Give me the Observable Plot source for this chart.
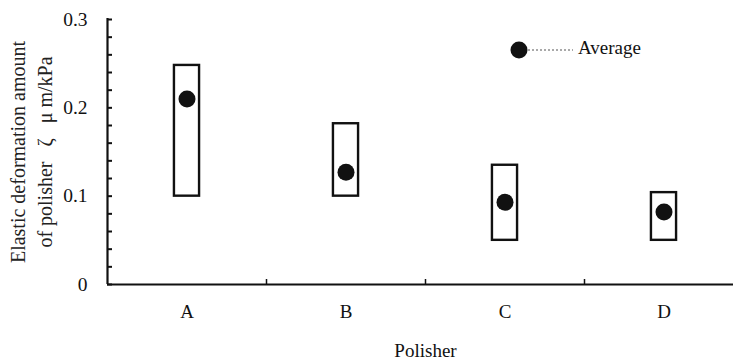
<!DOCTYPE html>
<html>
<head>
<meta charset="utf-8">
<script src="https://cdn.jsdelivr.net/npm/d3@7"></script>
<script src="https://cdn.jsdelivr.net/npm/@observablehq/plot@0.6"></script>
<style>
  html, body { margin: 0; padding: 0; background: #fff; overflow: hidden; }
  #wrap { position: relative; width: 733px; height: 361px; }
  #legend { position: absolute; left: 509px; top: 36px; font-family: "Liberation Serif", serif; font-size: 19px; color: #111; display: flex; align-items: center; }
</style>
</head>
<body>
<div id="wrap">
  <div id="chart"></div>
  <div id="legend">
    <svg width="68" height="24"><circle cx="10" cy="14" r="8.5" fill="#111"></circle><line x1="19" y1="14" x2="64" y2="14" stroke="#555" stroke-width="1.2" stroke-dasharray="2,2"></line></svg>
    <span style="margin-left:1px">Average</span>
  </div>
</div>
<script>
const categories = ["A", "B", "C", "D"];
const maxValues = [0.248, 0.182, 0.135, 0.104];
const minValues = [0.1, 0.1, 0.05, 0.05];
const avgValues = [0.21, 0.127, 0.093, 0.082];
const yTicks = [0, 0.1, 0.2, 0.3];
const yLabel = ["Elastic deformation amount", "of polisher\u00A0\u00A0\u00A0\u03B6\u00A0\u00A0\u00A0\u03BC m/kPa"];
const xLabel = "Polisher";

const rows = categories.map((c, i) => ({i, c, lo: minValues[i], hi: maxValues[i], avg: avgValues[i]}));
const hw = 0.079;

const chart = Plot.plot({
  width: 733,
  height: 361,
  marginLeft: 107,
  marginRight: -10,
  marginTop: 19,
  marginBottom: 77,
  style: {fontFamily: "Liberation Serif, serif", fontSize: "19px", color: "#111", background: "#fff"},
  x: {domain: [-0.5, 3.5]},
  y: {domain: [0, 0.3]},
  marks: [
    Plot.axisY({ticks: yTicks, tickSize: 0, tickPadding: 20, tickFormat: d => d === 0 ? "0" : d3.format(".1f")(d), label: null, fontSize: 19.5}),
    Plot.axisY({ticks: d3.range(0, 0.3001, 0.02), tickSize: -5, text: null, label: null, strokeWidth: 2}),
    Plot.axisX({ticks: [0, 1, 2, 3], tickFormat: i => categories[i], tickSize: 0, tickPadding: 20, fontSize: 19, label: xLabel, labelAnchor: "center", labelArrow: "none", labelOffset: 72}),
    Plot.axisX({ticks: [0.5, 1.5, 2.5], tickSize: -5, text: null, label: null, strokeWidth: 1.5}),
    Plot.ruleY([0], {strokeWidth: 2.2, stroke: "#111"}),
    Plot.ruleX([-0.5], {y1: 0, y2: 0.301, strokeWidth: 2.2, stroke: "#111"}),
    Plot.rect(rows, {x1: d => d.i - hw, x2: d => d.i + hw, y1: "lo", y2: "hi", fill: "#fff", stroke: "#111", strokeWidth: 2.4}),
    Plot.dot(rows, {x: "i", y: "avg", r: 8.5, fill: "#111", stroke: "none"}),
    Plot.text([yLabel.join("\n")], {frameAnchor: "left", textAnchor: "middle", rotate: -90, dx: -78, dy: 0, lineHeight: 1.35, fontSize: 20, fill: "#222"})
  ]
});
document.getElementById("chart").appendChild(chart);
</script>
</body>
</html>
